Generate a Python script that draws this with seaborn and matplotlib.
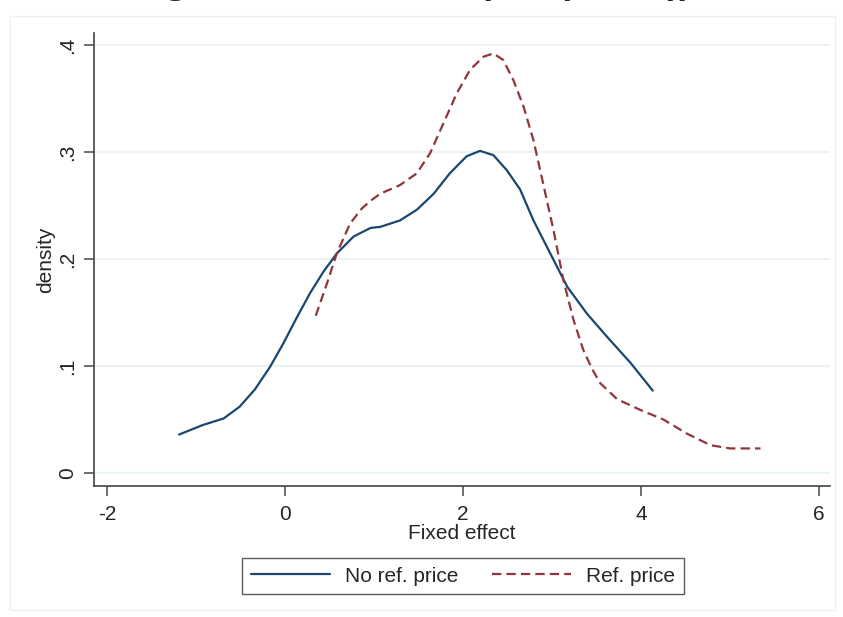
import matplotlib
matplotlib.use("Agg")
import matplotlib.pyplot as plt
from matplotlib.patches import Rectangle
from matplotlib.lines import Line2D
import seaborn as sns
import pandas as pd

# Kernel density curves
no_ref_x = [-1.19, -0.92, -0.69, -0.51, -0.34, -0.17, -0.02, 0.13, 0.28, 0.43, 0.58, 0.77,
            0.96, 1.07, 1.29, 1.48, 1.67, 1.85, 2.04, 2.19, 2.34, 2.49, 2.64, 2.79, 2.98,
            3.17, 3.39, 3.62, 3.88, 4.13]
no_ref_y = [0.036, 0.045, 0.051, 0.062, 0.078, 0.099, 0.121, 0.145, 0.168, 0.188, 0.205, 0.221,
            0.229, 0.230, 0.236, 0.246, 0.261, 0.280, 0.296, 0.301, 0.297, 0.283, 0.265, 0.236, 0.205,
            0.174, 0.149, 0.127, 0.103, 0.077]

ref_x = [0.345, 0.47, 0.58, 0.73, 0.86, 0.955, 1.07, 1.29, 1.48, 1.63, 1.78, 1.93, 2.08, 2.23,
         2.34, 2.45, 2.565, 2.68, 2.79, 2.90, 3.015, 3.127, 3.24, 3.35, 3.45, 3.54, 3.73, 3.99,
         4.25, 4.51, 4.78, 5.00, 5.34]
ref_y = [0.147, 0.177, 0.205, 0.233, 0.247, 0.254, 0.261, 0.269, 0.280, 0.299, 0.327, 0.355, 0.377, 0.389,
         0.392, 0.386, 0.367, 0.342, 0.311, 0.270, 0.227, 0.180, 0.143, 0.115, 0.097, 0.084, 0.069, 0.059,
         0.050, 0.037, 0.026, 0.023, 0.023]

series_labels = ["No ref. price", "Ref. price"]
x_ticks = [-2, 0, 2, 4, 6]
y_ticks = [0, 0.1, 0.2, 0.3, 0.4]
y_tick_labels = ["0", ".1", ".2", ".3", ".4"]

NAVY = "#1a476f"
MAROON = "#90353b"
DASH = [4.2, 2.3]

sns.set_style("white")
plt.rcParams["font.family"] = ["Liberation Sans", "DejaVu Sans"]

fig = plt.figure(figsize=(8.43, 6.17), dpi=100)
ax = fig.add_axes([0.1115, 0.2123, 0.873, 0.734])

df1 = pd.DataFrame({"x": no_ref_x, "y": no_ref_y})
df2 = pd.DataFrame({"x": ref_x, "y": ref_y})
sns.lineplot(data=df1, x="x", y="y", sort=False, color=NAVY, lw=1.6, ax=ax)
sns.lineplot(data=df2, x="x", y="y", sort=False, color=MAROON, lw=1.6, ax=ax)
ax.lines[-1].set_dashes(DASH)
for ln in ax.lines:
    ln.set_solid_joinstyle("round")
    ln.set_dash_joinstyle("round")

ax.set_xlim(-2.146, 6.12)
ax.set_ylim(-0.0121, 0.411)
ax.set_xticks(x_ticks)
ax.set_xticklabels([str(t) for t in x_ticks])
ax.set_yticks(y_ticks)
ax.set_yticklabels(y_tick_labels, rotation=90, va="center")
for y in y_ticks:
    ax.axhline(y, color="#eaf2f3", lw=1.5, zorder=0)

ax.tick_params(axis="both", length=7, width=1.2, color="#555555", labelsize=15,
               direction="out", bottom=True, left=True)
ax.tick_params(axis="x", pad=7)
ax.tick_params(axis="y", pad=5)
for s in ["top", "right"]:
    ax.spines[s].set_visible(False)
for s in ["left", "bottom"]:
    ax.spines[s].set_color("#444444")
    ax.spines[s].set_linewidth(1.2)

ax.set_xlabel("Fixed effect", fontsize=15, labelpad=0)
ax.set_ylabel("density", fontsize=15, labelpad=2)

handles = [Line2D([], [], color=NAVY, lw=1.6),
           Line2D([], [], color=MAROON, lw=1.6, dashes=DASH)]
leg = fig.legend(handles, series_labels, loc="center", bbox_to_anchor=(463 / 843, 1 - 576 / 617),
                 ncol=2, frameon=True, fancybox=False, fontsize=15, handlelength=3.8,
                 handletextpad=0.72, columnspacing=1.63, borderpad=0.42)
leg.get_frame().set_edgecolor("#333333")
leg.get_frame().set_linewidth(1.0)

# faint outer graph region
fig.patches.append(Rectangle((10 / 843, 1 - 610 / 617), 825 / 843, 594 / 617,
                             transform=fig.transFigure, fill=False, ec="#f0f0f0", lw=1.0))

# title, mostly cut off at the top of the image (only descenders show)
fig.text(133 / 843, 1 + 7 / 617, "Figure 4:", fontsize=27, fontfamily="Liberation Serif",
         fontweight="bold", va="baseline", ha="left")
fig.text(270 / 843, 1 + 7 / 617, "Distribution of the fixed effects", fontsize=27,
         fontfamily="Liberation Serif", fontweight="bold", fontstyle="italic",
         va="baseline", ha="left")

fig.savefig("out.png", dpi=100)
